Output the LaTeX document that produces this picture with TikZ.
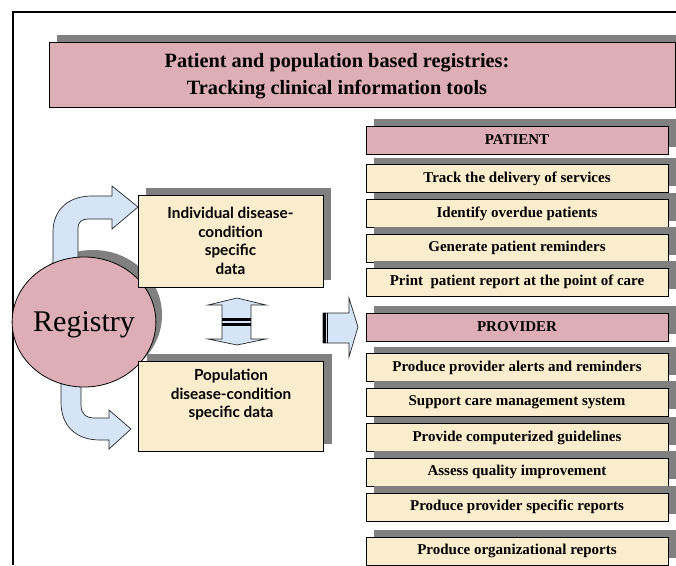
\documentclass[tikz,border=0pt]{standalone}
\usepackage{fontspec}
\setmainfont{Liberation Serif}
\newfontfamily\gillfont{Lato}
\usetikzlibrary{shapes.geometric,shadows}

\definecolor{rosebox}{RGB}{222,174,182}
\definecolor{creambox}{RGB}{250,237,206}
\definecolor{arrowblue}{RGB}{214,228,248}
\definecolor{shadowgray}{RGB}{128,128,128}

\tikzset{
  shade box/.style={draw=black, line width=0.9pt,
    drop shadow={shadow xshift=8pt, shadow yshift=7pt, fill=shadowgray, opacity=1}},
  headbox/.style={shade box, fill=rosebox, minimum width=302pt, minimum height=28pt,
    font=\bfseries\fontsize{15}{17}\selectfont},
  itembox/.style={shade box, fill=creambox, minimum width=302pt, minimum height=28pt,
    font=\bfseries\fontsize{15}{17}\selectfont},
  databox/.style={shade box, fill=creambox, minimum width=185pt, align=center,
    font=\gillfont\bfseries\fontsize{15.3}{18.5}\selectfont},
  blockarrow/.style={draw=black!85, line width=0.7pt, fill=arrowblue, line join=miter},
}

\begin{document}
\begin{tikzpicture}[x=1pt, y=-1pt, every node/.style={inner sep=0pt}]
\useasboundingbox (0,0) rectangle (676,565);

% frame
\draw[line width=2pt] (12.5,565) -- (12.5,11.5) -- (676,11.5);

% title
\node[shade box, fill=rosebox, minimum width=626pt, minimum height=65pt] (title) at (362,74.5) {};
\node[font=\bfseries\fontsize{20.3}{27}\selectfont, align=center] (titletext) at (337,76)
  {Patient and population based registries:\\Tracking clinical information tools};

% registry and its arrows
\fill[shadowgray] (93,315) ellipse [x radius=69pt, y radius=65pt];
\draw[blockarrow] (53,290) -- (53,232) .. controls (53,210) and (68,196) .. (92,196)
  -- (112,196) -- (112,186) -- (138,207) -- (112,229) -- (112,219) -- (88,219)
  .. controls (82,219) and (78,222) .. (78,228) -- (78,290) -- cycle;
\draw[blockarrow] (61,370) -- (61,402) .. controls (61,426) and (76,440) .. (100,440)
  -- (109,440) -- (109,449) -- (131,429) -- (109,410) -- (109,418) -- (95,418)
  .. controls (86,418) and (81,414) .. (81,405) -- (81,370) -- cycle;
\node[ellipse, draw=black, line width=0.8pt, fill=rosebox, minimum width=138pt,
  minimum height=130pt, text depth=0pt, font=\fontsize{30}{30}\selectfont] (registry) at (84,322) {Registry};

% data boxes
\node[databox, minimum height=92pt] (indiv) at (230.5,241)
  {Individual disease-\\condition\\specific\\data};
\node[databox, minimum height=90pt] (popul) at (231,406) {};
\node[align=center, font=\gillfont\bfseries\fontsize{15.3}{18.5}\selectfont] (popultext) at (231,395)
  {Population\\disease-condition\\specific data};

% double arrow between the boxes
\draw[blockarrow] (222,305) -- (208,305) -- (237,298) -- (266,305) -- (251,305)
  -- (251,339) -- (266,339) -- (237,345) -- (208,339) -- (222,339) -- cycle;
\fill[black] (222,318) rectangle (251,321);
\fill[black] (222,323) rectangle (251,325.5);

% arrow to the right column
\draw[blockarrow] (323,313) -- (349,313) -- (349,298) -- (358,327) -- (349,357)
  -- (349,343) -- (323,343) -- cycle;
\fill[black] (323,313) rectangle (325.5,343);
\fill[black] (326.5,313) rectangle (328,343);

% right column
\foreach \y/\n/\t in {140/pat/PATIENT, 327/prov/PROVIDER} {
    \node[headbox] (\n) at (517,\y) {\t};
}
\foreach \y/\n/\t in {178.5/track/Track the delivery of services,
                      213.5/ident/Identify overdue patients,
                      248/remind/Generate patient reminders,
                      282/print/Print~~patient report at the point of care,
                      367.5/alerts/Produce provider alerts and reminders,
                      402/support/Support care management system,
                      437.5/guide/Provide computerized guidelines,
                      472/assess/Assess quality improvement,
                      507/reports/Produce provider specific reports,
                      551/orgrep/Produce organizational reports} {
    \node[itembox] (\n) at (517,\y) {\t};
}
\end{tikzpicture}
\end{document}
